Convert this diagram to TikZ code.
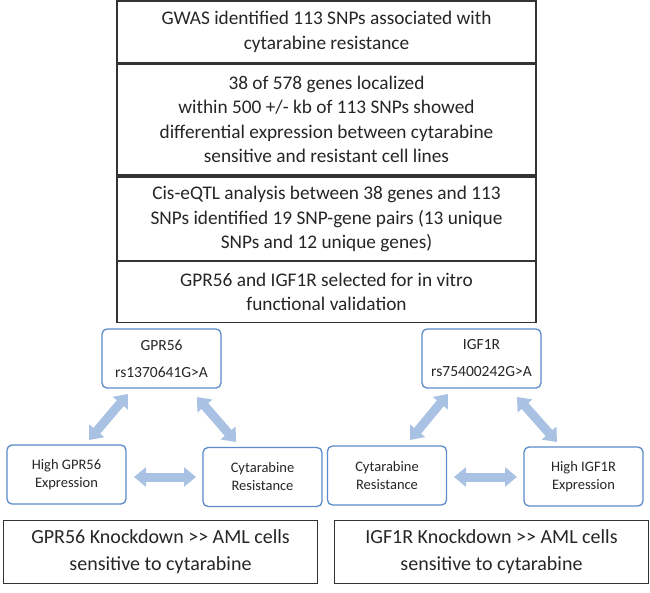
\documentclass[tikz,border=0pt]{standalone}
\usepackage{fontspec}
\setmainfont{Carlito}
\usetikzlibrary{arrows.meta,calc}
\definecolor{boxline}{HTML}{333333}
\definecolor{blueline}{HTML}{5B8BC9}
\definecolor{arrowfill}{HTML}{A9C2E3}
\tikzset{
  stepbox/.style={draw=boxline, line width=1.3pt, fill=white, inner sep=0pt, align=center,
    font=\fontsize{19.3}{24.5}\selectfont, text=black!85},
  smallbox/.style={draw=blueline, line width=1.3pt, rounded corners=5pt, fill=white, inner sep=0pt,
    align=center, minimum width=119pt, minimum height=59pt, font=\fontsize{14.5}{18}\selectfont, text=black!85},
  resbox/.style={draw=boxline, line width=1.3pt, fill=white, inner sep=0pt, align=center,
    minimum width=314pt, minimum height=63pt, font=\fontsize{20}{27}\selectfont, text=black!85},
  dblarrow/.style={draw=arrowfill, line width=9pt,
    arrows={Triangle[width=19pt,length=12pt]-Triangle[width=19pt,length=12pt]}}
}
\begin{document}
\begin{tikzpicture}[x=1pt,y=-1pt]
\useasboundingbox (0,0) rectangle (650,592);
% stacked top boxes
\node[stepbox, minimum width=419pt, minimum height=62pt] (s1) at (326.5,32) {GWAS identified 113 SNPs associated with\\cytarabine resistance};
\node[stepbox, minimum width=419pt, minimum height=111pt] (s2) at (326.5,119.5) {38 of 578 genes localized\\within 500 +/- kb of 113 SNPs showed\\differential expression between cytarabine\\sensitive and resistant cell lines};
\node[stepbox, minimum width=419pt, minimum height=84pt] (s3) at (326.5,219) {Cis-eQTL analysis between 38 genes and 113\\SNPs identified 19 SNP-gene pairs (13 unique\\SNPs and 12 unique genes)};
\node[stepbox, minimum width=419pt, minimum height=61pt] (s4) at (326.5,292) {GPR56 and IGF1R selected for in vitro\\functional validation};
% left triangle
\node[smallbox, font=\fontsize{15.5}{27}\selectfont] (g) at (161.5,358.5) {GPR56\\rs1370641G>A};
\node[smallbox] (gh) at (66.5,474.5) {High GPR56\\Expression};
\node[smallbox] (gc) at (262.5,477) {Cytarabine\\Resistance};
% right triangle
\node[smallbox, font=\fontsize{15.5}{27}\selectfont] (i) at (481.5,358.5) {IGF1R\\rs75400242G>A};
\node[smallbox] (ic) at (387,475.5) {Cytarabine\\Resistance};
\node[smallbox] (ih) at (583.5,476.5) {High IGF1R\\Expression};
% arrow end points
\coordinate (a1s) at (128,394); \coordinate (a1e) at (89,440);
\coordinate (a2s) at (197,397); \coordinate (a2e) at (236,442);
\coordinate (a3s) at (134,477); \coordinate (a3e) at (196,477);
\coordinate (b1s) at (448,394); \coordinate (b1e) at (410,440);
\coordinate (b2s) at (517,397); \coordinate (b2e) at (557,442);
\coordinate (b3s) at (454,477); \coordinate (b3e) at (517,477);
\draw[dblarrow] (a1s) -- (a1e);
\draw[dblarrow] (a2s) -- (a2e);
\draw[dblarrow] (a3s) -- (a3e);
\draw[dblarrow] (b1s) -- (b1e);
\draw[dblarrow] (b2s) -- (b2e);
\draw[dblarrow] (b3s) -- (b3e);
% bottom boxes
\node[resbox] (rl) at (160.5,552) {GPR56 Knockdown >{}> AML cells\\sensitive to cytarabine};
\node[resbox] (rr) at (491.5,552) {IGF1R Knockdown >{}> AML cells\\sensitive to cytarabine};
\end{tikzpicture}
\end{document}
